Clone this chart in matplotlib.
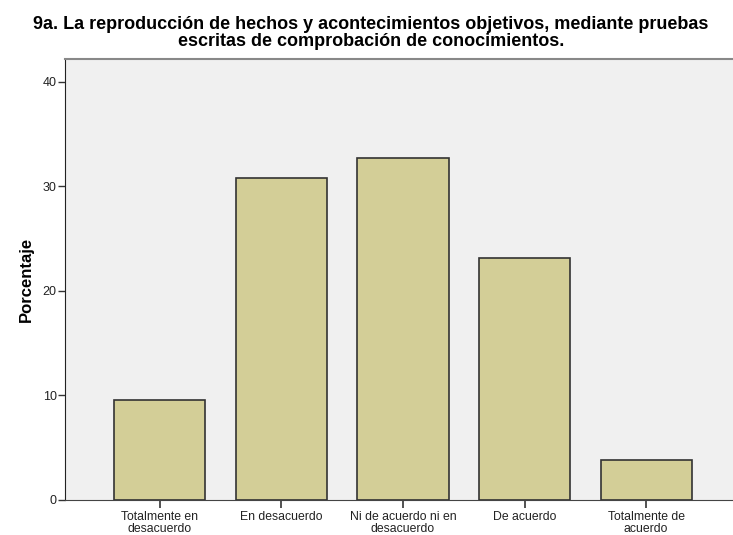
import matplotlib.pyplot as plt

# respuestas a la pregunta 9a (porcentaje)
categorias = ['Totalmente en\ndesacuerdo', 'En desacuerdo', 'Ni de acuerdo ni en\ndesacuerdo',
              'De acuerdo', 'Totalmente de\nacuerdo']
porcentajes = [9.6, 30.8, 32.7, 23.1, 3.8]

plt.rcParams['font.family'] = ['Liberation Sans', 'DejaVu Sans']

fig = plt.figure(figsize=(7.33, 5.35), dpi=100)
ax = fig.add_axes([65 / 733, 35 / 535, 676 / 733, 441.5 / 535])
ax.set_facecolor('#f0f0f0')

x = range(len(categorias))
ax.bar(x, porcentajes, width=0.75, color='#d3ce97', edgecolor='#333333', linewidth=1.2, zorder=2)

ax.set_xlim(-0.78, 4.78)
ax.set_ylim(0, 42.2)
ax.set_yticks([0, 10, 20, 30, 40])
ax.set_xticks(list(x))
ax.set_xticklabels(categorias, fontsize=8.8, color='#222222', linespacing=0.95)
ax.tick_params(axis='y', labelsize=9, labelcolor='#222222', length=5, width=1, color='#333333', pad=1)
ax.tick_params(axis='x', length=6, width=1.2, color='#333333', pad=2)

ax.spines['right'].set_visible(False)
ax.spines['left'].set_color('#222222')
ax.spines['bottom'].set_color('#444444')
ax.spines['top'].set_color('#888888')
ax.spines['top'].set_linewidth(1.5)

ax.set_ylabel('Porcentaje', fontsize=12, fontweight='bold', labelpad=6)

fig.text(371 / 733, 1 - 33 / 535,
         '9a. La reproducción de hechos y acontecimientos objetivos, mediante pruebas\n'
         'escritas de comprobación de conocimientos.',
         ha='center', va='center', fontsize=13, fontweight='bold', linespacing=0.98)

fig.savefig('out.png', dpi=100)
